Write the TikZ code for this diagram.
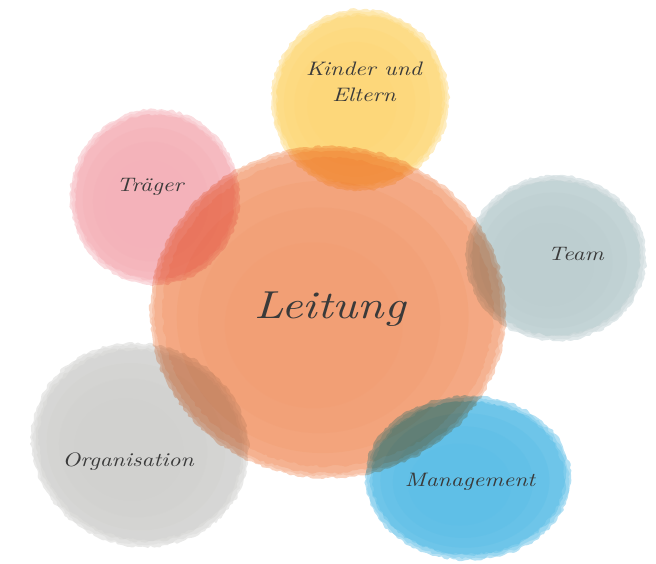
\documentclass[tikz,border=0pt]{standalone}
\usepackage{fontspec}
\newfontfamily\handfont{lmroman10-italic}[Extension=.otf, FakeStretch=1.2]
\usetikzlibrary{decorations.pathmorphing}
\definecolor{orangeC}{RGB}{241,146,98}
\definecolor{yellowC}{RGB}{253,211,104}
\definecolor{pinkC}{RGB}{243,168,176}
\definecolor{teamC}{RGB}{180,200,203}
\definecolor{grayC}{RGB}{204,204,201}
\definecolor{blueC}{RGB}{72,182,228}
\definecolor{inkC}{RGB}{58,58,58}
\tikzset{
  wc/.style={decorate, decoration={random steps, segment length=3pt, amplitude=1.4pt}, rounded corners=0.8pt},
  lbl/.style={text=inkC, font=\handfont\fontsize{19.5}{24}\selectfont, align=center, inner sep=0pt},
  biglbl/.style={text=inkC, font=\handfont\fontsize{39}{44}\selectfont, inner sep=0pt}
}
\newcommand\wcblob[6]{%
  \begin{scope}[transparency group, blend mode=multiply, opacity=0.9, shift={(#2,#3)}, rotate=#6]
    \fill[#1!45!white, wc] (0,0) ellipse [x radius=#4, y radius=#5];
    \fill[#1!62!white, wc] (0,0) ellipse [x radius=#4-2, y radius=#5-2];
    \fill[#1!78!white, wc] (0,0) ellipse [x radius=#4-5, y radius=#5-5];
    \fill[#1!88!white, wc] (0,0) ellipse [x radius=#4*0.93, y radius=#5*0.93];
    \fill[#1, opacity=0.35] (-#4*0.03,#5*0.03) ellipse [x radius=#4*0.82, y radius=#5*0.82];
    \fill[#1, opacity=0.35] (-#4*0.05,#5*0.05) ellipse [x radius=#4*0.68, y radius=#5*0.68];
    \fill[#1, opacity=0.3] (-#4*0.08,#5*0.08) ellipse [x radius=#4*0.5, y radius=#5*0.5];
  \end{scope}}
\begin{document}
\begin{tikzpicture}[x=1pt, y=-1pt]
\pgfmathsetseed{7}
\useasboundingbox (0,0) rectangle (656,564);
% blobs
\wcblob{orangeC}{328}{312}{178}{166}{0}
\wcblob{yellowC}{360}{100}{89}{91}{-10}
\wcblob{pinkC}{155}{197}{85}{88}{0}
\wcblob{teamC}{556}{258}{90}{83}{0}
\wcblob{grayC}{140}{445}{110}{101}{-20}
\wcblob{blueC}{468}{478}{103}{82}{0}
% labels
\node[lbl] (kinder) at (364,82) {Kinder und\\[2pt]Eltern};
\node[lbl] (traeger) at (150,187) {Träger};
\node[biglbl] (leitung) at (330,309) {Leitung};
\node[lbl] (team) at (576,254) {Team};
\node[lbl] (orga) at (128,462) {Organisation};
\node[lbl] (mgmt) at (470,482) {Management};
\end{tikzpicture}
\end{document}
